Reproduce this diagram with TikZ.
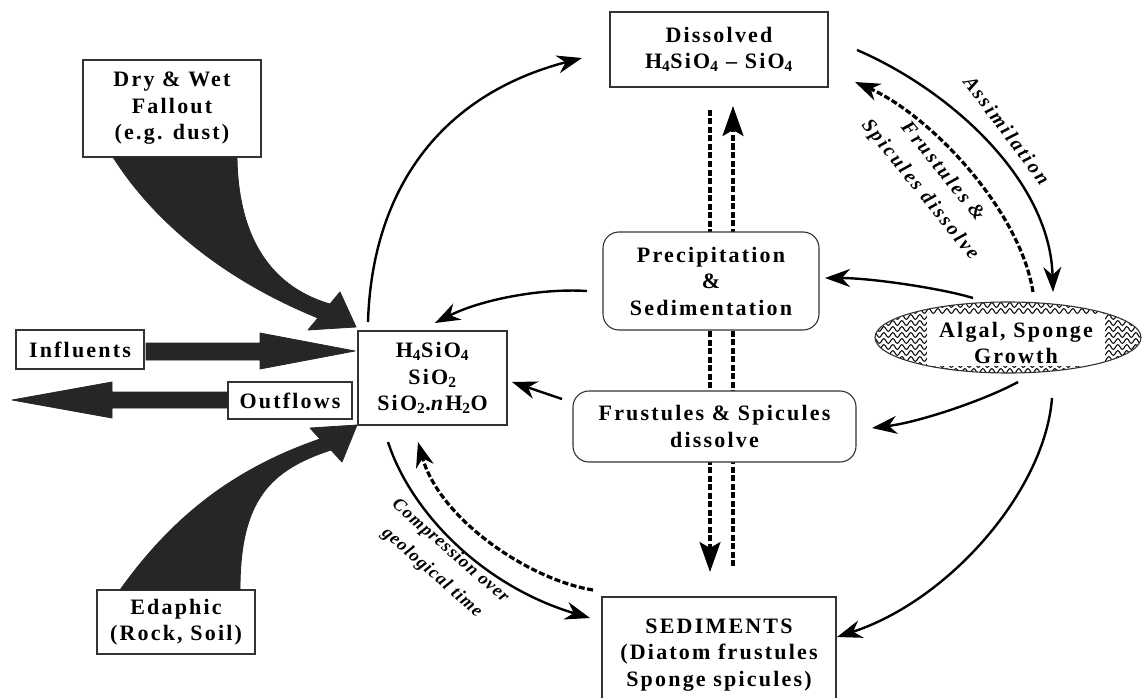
\documentclass[tikz,border=0pt]{standalone}
\usepackage{fontspec}
\setmainfont{Liberation Serif}
\newfontfamily\spaced[LetterSpace=10]{Liberation Serif}
\newfontfamily\spacedit[LetterSpace=12]{Liberation Serif}
\newfontfamily\spaceditb[LetterSpace=6]{Liberation Serif}
\usetikzlibrary{arrows.meta,shapes.geometric,decorations.pathmorphing}
\begin{document}
\begin{tikzpicture}[x=1pt,y=-1pt,
  lab/.style={font=\spaced\bfseries\fontsize{22}{26.5}\selectfont, align=center},
  box/.style={lab, draw=black!80, line width=1.1pt, fill=white, inner sep=0pt},
  rbox/.style={box, rounded corners=16pt},
  flow/.style={line width=2.4pt, -{Stealth[length=25pt,width=18pt,inset=8pt]}},
  dflow/.style={flow, dash pattern=on 6pt off 2.5pt, line width=3.2pt},
  vflow/.style={dflow, -{Stealth[length=30pt,width=21pt,inset=6pt]}},
  big/.style={fill=black!85, draw=black!85, line width=0.8pt, line join=round},
  itlab/.style={font=\spacedit\bfseries\itshape\fontsize{20}{29}\selectfont, inner sep=0pt, align=center},
  itlabb/.style={font=\spaceditb\bfseries\itshape\fontsize{18}{28}\selectfont, inner sep=0pt, align=center},
]
\useasboundingbox[fill=white] (0,0) rectangle (1143,698);

% vertical dashed connectors (behind boxes)
\coordinate (vl1) at (710,110); \coordinate (vl2) at (710,572);
\coordinate (vr1) at (733,566); \coordinate (vr2) at (733,106);
\draw[vflow] (vl1) -- (vl2);
\draw[vflow] (vr1) -- (vr2);

% boxes
\node[box, minimum width=178pt, minimum height=97pt] (fall) at (172,108.5) {Dry \& Wet\\Fallout\\(e.g. dust)};
\node[box, minimum width=128pt, minimum height=39pt] (infl) at (80,349.5) {Influents};
\node[box, minimum width=124pt, minimum height=37pt] (outf) at (290,400.5) {Outflows};
\node[box, minimum width=149pt, minimum height=94pt] (cent) at (432.5,378) {H\textsubscript{4}SiO\textsubscript{4}\\SiO\textsubscript{2}\\SiO\textsubscript{2}.\textit{n}H\textsubscript{2}O};
\node[box, minimum width=218pt, minimum height=75pt] (dis) at (719,49.5) {Dissolved\\H\textsubscript{4}SiO\textsubscript{4} \textendash\ SiO\textsubscript{4}};
\node[rbox, minimum width=216pt, minimum height=98pt] (prec) at (711,281) {Precipitation\\\&\\Sedimentation};
\node[rbox, minimum width=283pt, minimum height=71pt] (frus) at (714.5,426.5) {Frustules \& Spicules\\dissolve};
\node[box, minimum width=234pt, minimum height=116pt] (sed) at (719,655) {SEDIMENTS\\(Diatom frustules\\Sponge spicules)};
\node[box, minimum width=158pt, minimum height=64pt] (eda) at (176,622) {Edaphic\\(Rock, Soil)};

% algal ellipse with pattern
\begin{scope}
  \clip (1008,337.5) ellipse [x radius=133, y radius=35.5];
  \foreach \yy in {299,305,...,377} {
    \draw[line width=1pt, decorate, decoration={snake, amplitude=2.4pt, segment length=9pt}] (872,\yy) -- (1146,\yy);
  }
\end{scope}
\node[fill=white, minimum width=178pt, minimum height=52pt, inner sep=0pt] (algw) at (1016,340) {};
\node[lab] (algt) at (1016,343) {Algal, Sponge\\Growth};
\node[ellipse, draw=black!80, line width=1.1pt, minimum width=266pt, minimum height=71pt, inner sep=0pt] (alg) at (1008,337.5) {};

% connector end points
\coordinate (a1s) at (368,322);  \coordinate (a1e) at (582,58);
\coordinate (a2s) at (857,50);   \coordinate (a2e) at (1053,292);
\coordinate (a3s) at (1033,292); \coordinate (a3e) at (855,82);
\coordinate (a4s) at (973,298);  \coordinate (a4e) at (825,278);
\coordinate (a5s) at (587,291);  \coordinate (a5e) at (435,323);
\coordinate (a6s) at (1018,382); \coordinate (a6e) at (872,428);
\coordinate (a7s) at (1052,398); \coordinate (a7e) at (837,637);
\coordinate (a8s) at (562,399);  \coordinate (a8e) at (512,382);
\coordinate (a9s) at (388,442);  \coordinate (a9e) at (590,618);
\coordinate (a10s) at (593,590); \coordinate (a10e) at (418,442);

\draw[flow] (a1s) .. controls (372,190) and (440,95) .. (a1e);
\draw[flow] (a2s) .. controls (950,90) and (1050,180) .. (a2e);
\draw[dflow] (a3s) .. controls (1020,210) and (930,115) .. (a3e);
\draw[flow] (a4s) .. controls (940,288) and (870,278) .. (a4e);
\draw[flow] (a5s) .. controls (540,288) and (480,300) .. (a5e);
\draw[flow] (a6s) .. controls (985,400) and (920,422) .. (a6e);
\draw[flow] (a7s) .. controls (1045,490) and (950,600) .. (a7e);
\draw[flow] (a8s) -- (a8e);
\draw[flow] (a9s) .. controls (410,510) and (480,585) .. (a9e);
\draw[dflow] (a10s) .. controls (530,580) and (440,520) .. (a10e);

% big filled arrows
\filldraw[big] (113,157) .. controls (140,200) and (200,270) .. (318,318) -- (308,330) -- (356,327) -- (340,292) -- (330,304) .. controls (265,285) and (238,230) .. (237,157) -- cycle;
\filldraw[big] (120,590) .. controls (170,520) and (230,470) .. (320,439) -- (310,428) -- (357,425) -- (342,462) -- (331,450) .. controls (270,470) and (240,500) .. (240,590) -- cycle;
\filldraw[big] (146,343) -- (260,343) -- (260,333) -- (355,351) -- (260,369) -- (260,360) -- (146,360) -- cycle;
\filldraw[big] (228,392) -- (112,392) -- (112,382) -- (12,400) -- (112,418) -- (112,408) -- (228,408) -- cycle;

% labels
\node[itlab, rotate=-53] (lasm) at (1007,130) {Assimilation};
\node[itlab, rotate=-51] (lfs) at (931,181) {Frustules \&\\Spicules dissolve};
\node[itlabb, rotate=-41] (lcg) at (441,562) {Compression over\\geological time};
\end{tikzpicture}
\end{document}
